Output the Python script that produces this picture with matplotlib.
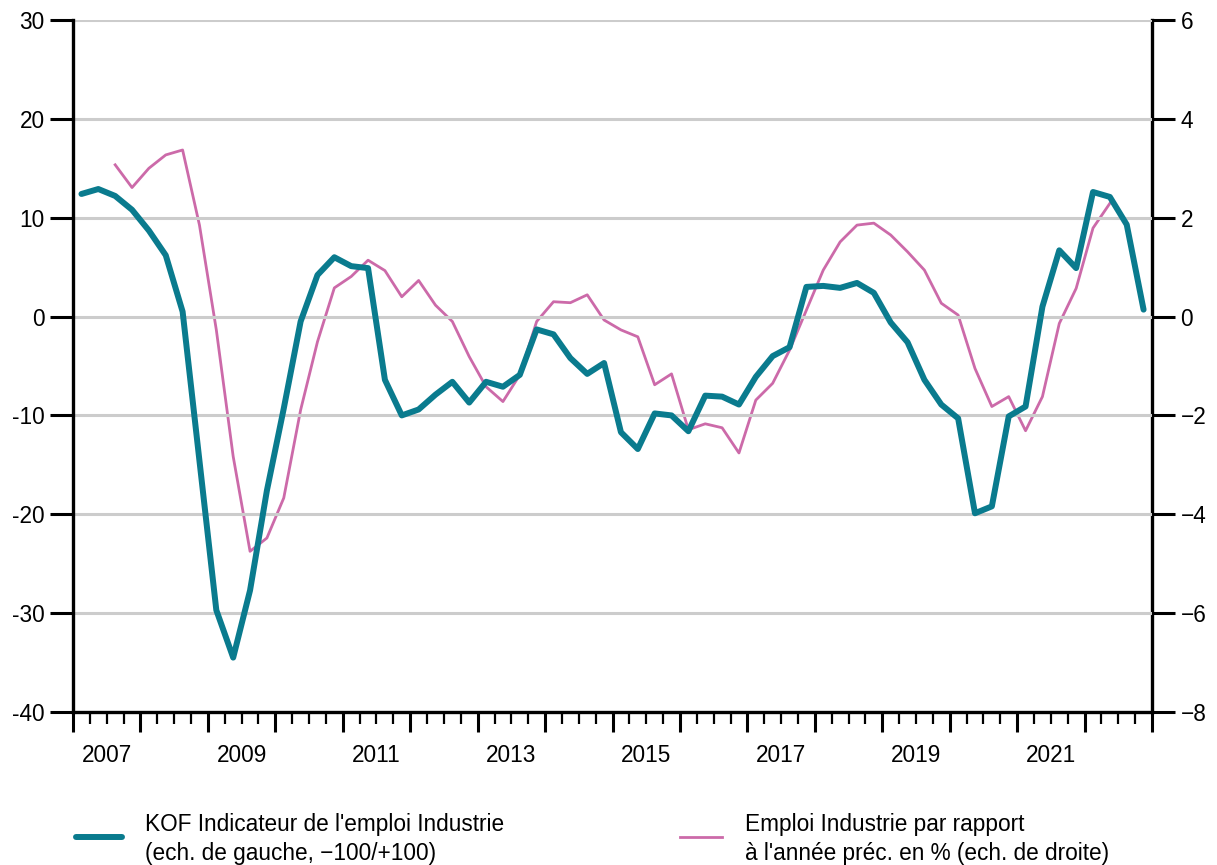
import numpy as np
import matplotlib
matplotlib.use("Agg")
import matplotlib.pyplot as plt
from matplotlib.lines import Line2D

plt.rcParams['font.family'] = ['Liberation Sans', 'DejaVu Sans']

# Quarterly data, 2007Q1 .. 2022Q4
kof_start = 2007.0
kof = [12.4, 12.9, 12.2, 10.8, 8.7, 6.2, 0.5, -14.6,
       -29.7, -34.5, -27.7, -17.6, -9.3, -0.5, 4.2, 6.0,
       5.1, 4.9, -6.4, -10.0, -9.4, -7.9, -6.6, -8.7,
       -6.6, -7.1, -5.9, -1.3, -1.8, -4.2, -5.8, -4.7,
       -11.7, -13.4, -9.8, -10.0, -11.6, -8.0, -8.1, -8.9,
       -6.1, -4.0, -3.1, 3.0, 3.1, 2.9, 3.4, 2.4,
       -0.6, -2.6, -6.4, -8.9, -10.3, -19.9, -19.2, -10.1,
       -9.1, 1.0, 6.7, 4.9, 12.6, 12.1, 9.3, 0.7]

# 2007Q3 .. 2022Q2
emp_start = 2007.5
emp = [3.07, 2.61, 3.0, 3.27, 3.37, 1.85, -0.27, -2.83,
       -4.75, -4.48, -3.67, -1.89, -0.51, 0.58, 0.81, 1.14,
       0.93, 0.40, 0.73, 0.23, -0.10, -0.81, -1.42, -1.72,
       -1.18, -0.10, 0.30, 0.28, 0.44, -0.07, -0.27, -0.41,
       -1.38, -1.16, -2.29, -2.17, -2.25, -2.76, -1.69, -1.35,
       -0.68, 0.13, 0.94, 1.51, 1.85, 1.89, 1.65, 1.31,
       0.94, 0.27, 0.03, -1.05, -1.82, -1.62, -2.31, -1.62,
       -0.14, 0.57, 1.79, 2.29]

left_ticks = [30, 20, 10, 0, -10, -20, -30, -40]
right_ticks = [6, 4, 2, 0, -2, -4, -6, -8]
year_labels = [2007, 2009, 2011, 2013, 2015, 2017, 2019, 2021]

teal = '#0a7b8e'
pink = '#cc6aa9'
fs = 16.3

x_kof = kof_start + (np.arange(len(kof)) + 0.5) / 4
x_emp = emp_start + (np.arange(len(emp)) + 0.5) / 4

fig = plt.figure(figsize=(12.17, 8.65), dpi=100)
ax = fig.add_axes([0.06, 0.1769, 0.8866, 0.8])
ax2 = ax.twinx()

ax.set_xlim(2007, 2023)
ax.set_ylim(-40, 30)
ax2.set_ylim(-8, 6)

for t in left_ticks:
    ax.axhline(t, color='#cccccc', lw=2.2, zorder=0)

ax2.plot(x_emp, emp, color=pink, lw=2.0, zorder=2)
ax.plot(x_kof, kof, color=teal, lw=4.3, zorder=3, solid_capstyle='round',
        solid_joinstyle='round')
ax.set_zorder(ax2.get_zorder() + 1)
ax.patch.set_visible(False)

ax.set_yticks(left_ticks)
ax.set_yticklabels([str(t) for t in left_ticks])
ax2.set_yticks(right_ticks)
ax2.set_yticklabels([str(t).replace('-', '\u2212') for t in right_ticks])

ax.set_xticks(np.arange(2007, 2024, 1))
ax.set_xticks(np.arange(2007, 2023.01, 0.25), minor=True)
ax.set_xticklabels([])
ax.tick_params(axis='x', which='major', length=14.5, width=2.2, color='black')
ax.tick_params(axis='x', which='minor', length=8.5, width=1.6, color='black')
for y in year_labels:
    ax.text(y + 0.5, -0.046, str(y), transform=ax.get_xaxis_transform(),
            ha='center', va='top', fontsize=fs)

ax.tick_params(axis='y', length=16.5, width=2.2, labelsize=fs, pad=4)
ax2.tick_params(axis='y', length=16.5, width=2.2, labelsize=fs, pad=4)

for a in (ax, ax2):
    a.spines['top'].set_visible(False)
    for s in ('left', 'right', 'bottom'):
        a.spines[s].set_linewidth(2.4)
ax.spines['right'].set_visible(False)
ax2.spines['left'].set_visible(False)
ax2.spines['bottom'].set_visible(False)

# Legend
fig.add_artist(Line2D([76 / 1217, 122 / 1217], [1 - 837 / 865] * 2, color=teal,
                      lw=4.3, solid_capstyle='round'))
fig.text(145 / 1217, 1 - 839 / 865,
         "KOF Indicateur de l'emploi Industrie\n(ech. de gauche, \u2212100/+100)",
         fontsize=fs, va='center', ha='left', linespacing=1.3)
fig.add_artist(Line2D([680 / 1217, 722 / 1217], [1 - 837 / 865] * 2, color=pink,
                      lw=2.0))
fig.text(745 / 1217, 1 - 839 / 865,
         "Emploi Industrie par rapport\n\u00e0 l'ann\u00e9e pr\u00e9c. en % (ech. de droite)",
         fontsize=fs, va='center', ha='left', linespacing=1.3)

fig.savefig('out.png', dpi=100)
